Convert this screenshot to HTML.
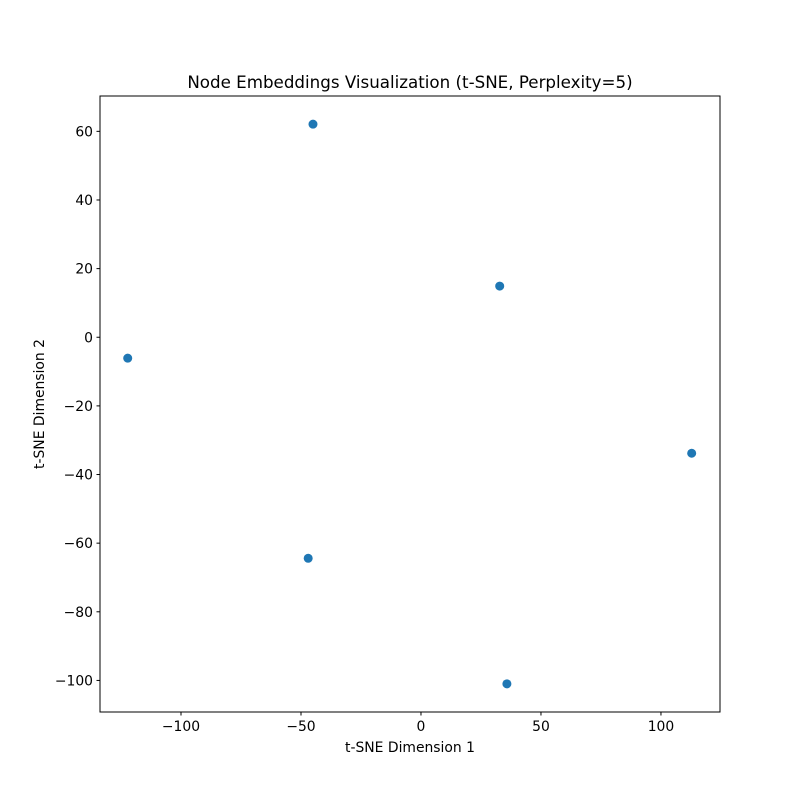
<!DOCTYPE html>
<html><head><meta charset="utf-8"><style>
body{margin:0;background:#fff;}
svg{display:block;font-family:"DejaVu Sans","Liberation Sans",sans-serif;}
</style></head><body>
<svg id="chart" width="800" height="800" xmlns="http://www.w3.org/2000/svg">
<rect width="800" height="800" fill="#fff"/>
<text x="410" y="88" font-size="16.7" text-anchor="middle">Node Embeddings Visualization (t-SNE, Perplexity=5)</text>
<text x="410" y="752" font-size="13.9" text-anchor="middle">t-SNE Dimension 1</text>
<text x="44" y="404" font-size="13.9" text-anchor="middle" transform="rotate(-90 44 404)">t-SNE Dimension 2</text>
<g id="ticks"></g>
<g id="points"></g>
<rect x="100" y="96" width="620" height="616" fill="none" stroke="#000" stroke-width="1"/>
</svg>
<script>
const xValues = [-45, 32.8, -122.2, 112.8, -47, 35.8];
const yValues = [62.1, 14.9, -6.1, -33.8, -64.4, -101];
const xTicks = [-100, -50, 0, 50, 100];
const yTicks = [60, 40, 20, 0, -20, -40, -60, -80, -100];

const X0=100,X1=720,Y0=96,Y1=712;
const xMin=-133.75,xMax=124.6,yMin=-109.2,yMax=70.3;
function sx(v){return X0+(v-xMin)/(xMax-xMin)*(X1-X0);}
function sy(v){return Y1-(v-yMin)/(yMax-yMin)*(Y1-Y0);}
const NS="http://www.w3.org/2000/svg";
const tg=document.getElementById('ticks');
function fmt(v){return v<0?'\u2212'+Math.abs(v):String(v);}
xTicks.forEach(t=>{
  const x=sx(t);
  const l=document.createElementNS(NS,'line');
  l.setAttribute('x1',x);l.setAttribute('x2',x);l.setAttribute('y1',Y1);l.setAttribute('y2',Y1+3.5);
  l.setAttribute('stroke','#000');
  
  
  tg.appendChild(l);
  const tx=document.createElementNS(NS,'text');
  tx.setAttribute('x',x);tx.setAttribute('y',Y1+19);tx.setAttribute('font-size','13.9');tx.setAttribute('text-anchor','middle');
  tx.textContent=fmt(t);
  
  
  tg.appendChild(tx);
});
yTicks.forEach(t=>{
  const y=sy(t);
  const l=document.createElementNS(NS,'line');
  l.setAttribute('x1',X0-3.5);l.setAttribute('x2',X0);l.setAttribute('y1',y);l.setAttribute('y2',y);
  l.setAttribute('stroke','#000');
  
  
  tg.appendChild(l);
  const tx=document.createElementNS(NS,'text');
  tx.setAttribute('x',X0-7);tx.setAttribute('y',y+5);tx.setAttribute('font-size','13.9');tx.setAttribute('text-anchor','end');
  tx.textContent=fmt(t);
  
  
  tg.appendChild(tx);
});
const pg=document.getElementById('points');
xValues.forEach((v,i)=>{
  const c=document.createElementNS(NS,'circle');
  c.setAttribute('cx',sx(v));c.setAttribute('cy',sy(yValues[i]));c.setAttribute('r','4.5');
  c.setAttribute('fill','#1f77b4');
  
  
  pg.appendChild(c);
});
</script>
</body></html>
